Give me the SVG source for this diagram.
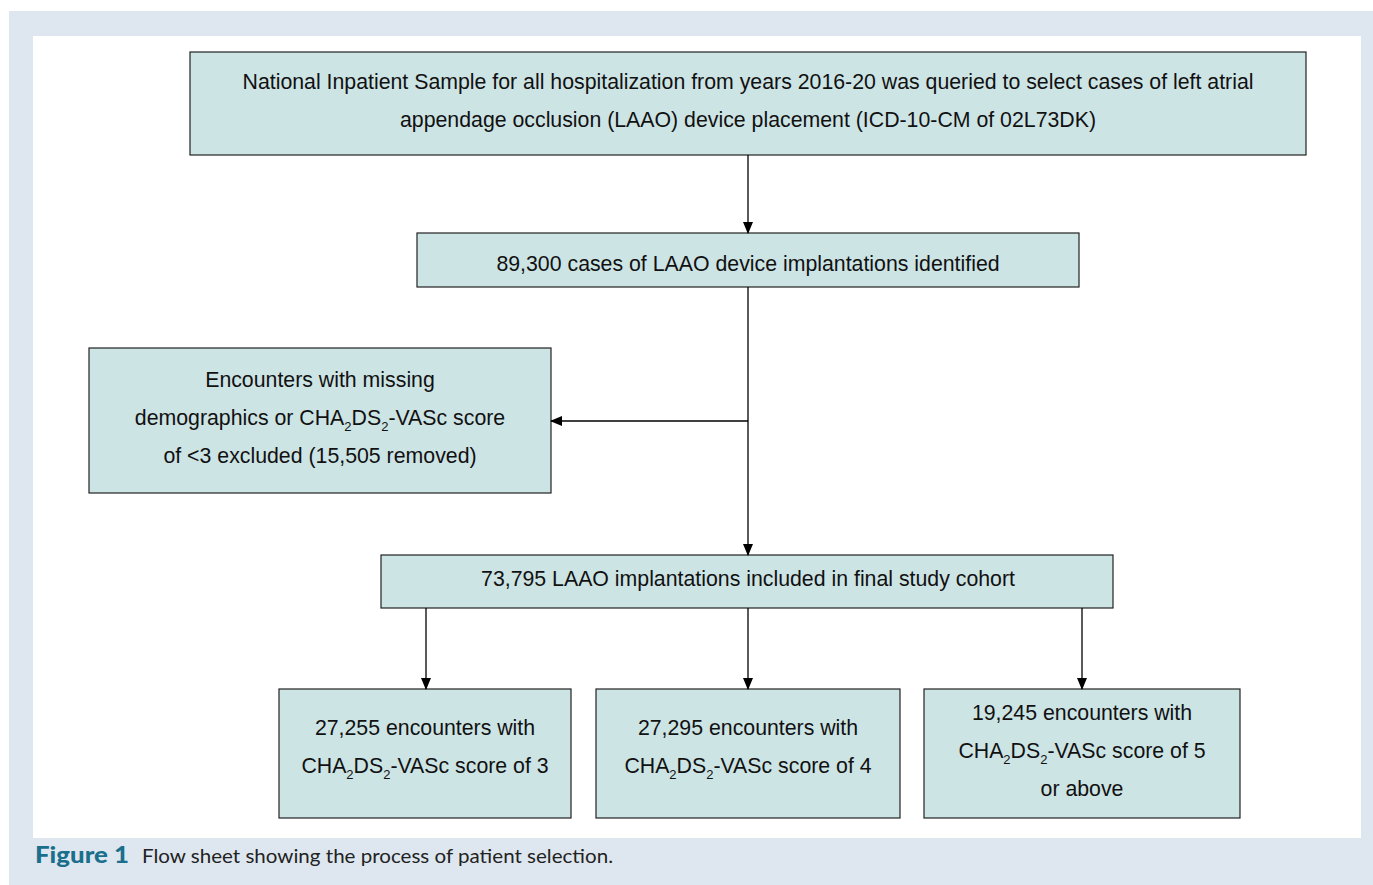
<svg xmlns="http://www.w3.org/2000/svg" width="1373" height="885" viewBox="0 0 1373 885">
<style>
.box{fill:#cde4e5;stroke:#222;stroke-width:1.2}
.t{font-family:"Liberation Sans",Arial,sans-serif;font-size:21.3px;fill:#111;text-anchor:middle}
.s{font-size:13px}
.c{stroke:#000;stroke-width:1.3;fill:none;marker-end:url(#ah)}
</style>
<defs>
<marker id="ah" markerWidth="12" markerHeight="10" refX="11" refY="5" orient="auto" markerUnits="userSpaceOnUse">
<path d="M0,0 L12,5 L0,10 Z" fill="#000"/>
</marker>
</defs>
<rect x="9" y="11" width="1364" height="874" fill="#dee7ef"/>
<rect x="33" y="36" width="1328" height="802" fill="#fff"/>
<g id="n1"><rect class="box" x="190" y="52" width="1116" height="103"/>
<text class="t" x="748" y="89">National Inpatient Sample for all hospitalization from years 2016-20 was queried to select cases of left atrial</text>
<text class="t" x="748" y="127">appendage occlusion (LAAO) device placement (ICD-10-CM of 02L73DK)</text></g>
<g id="n2"><rect class="box" x="417" y="233" width="662" height="54"/>
<text class="t" x="748" y="271">89,300 cases of LAAO device implantations identified</text></g>
<g id="n3"><rect class="box" x="89" y="348" width="462" height="145"/>
<text class="t" x="320" y="387">Encounters with missing</text>
<text class="t" x="320" y="425">demographics or CHA<tspan class="s" dy="6">2</tspan><tspan dy="-6">DS</tspan><tspan class="s" dy="6">2</tspan><tspan dy="-6">-VASc score</tspan></text>
<text class="t" x="320" y="463">of &lt;3 excluded (15,505 removed)</text></g>
<g id="n4"><rect class="box" x="381" y="555" width="732" height="53"/>
<text class="t" x="748" y="586">73,795 LAAO implantations included in final study cohort</text></g>
<g id="n5"><rect class="box" x="279" y="689" width="292" height="129"/>
<text class="t" x="425" y="735">27,255 encounters with</text>
<text class="t" x="425" y="773">CHA<tspan class="s" dy="6">2</tspan><tspan dy="-6">DS</tspan><tspan class="s" dy="6">2</tspan><tspan dy="-6">-VASc score of 3</tspan></text></g>
<g id="n6"><rect class="box" x="596" y="689" width="304" height="129"/>
<text class="t" x="748" y="735">27,295 encounters with</text>
<text class="t" x="748" y="773">CHA<tspan class="s" dy="6">2</tspan><tspan dy="-6">DS</tspan><tspan class="s" dy="6">2</tspan><tspan dy="-6">-VASc score of 4</tspan></text></g>
<g id="n7"><rect class="box" x="924" y="689" width="316" height="129"/>
<text class="t" x="1082" y="720">19,245 encounters with</text>
<text class="t" x="1082" y="758">CHA<tspan class="s" dy="6">2</tspan><tspan dy="-6">DS</tspan><tspan class="s" dy="6">2</tspan><tspan dy="-6">-VASc score of 5</tspan></text>
<text class="t" x="1082" y="796">or above</text></g>
<g id="connectors">
<line class="c" x1="748" y1="155" x2="748" y2="233"/>
<line class="c" x1="748" y1="287" x2="748" y2="555"/>
<line class="c" x1="748" y1="421" x2="551" y2="421"/>
<line class="c" x1="426" y1="608" x2="426" y2="689"/>
<line class="c" x1="748" y1="608" x2="748" y2="689"/>
<line class="c" x1="1082" y1="608" x2="1082" y2="689"/>
</g>
<g id="caption">
<text x="35" y="863" font-family="Lato,'Open Sans',sans-serif" font-weight="900" font-size="23" fill="#1a6f8c" textLength="94" lengthAdjust="spacingAndGlyphs">Figure 1</text>
<text x="142" y="863" font-family="Lato,'Open Sans',sans-serif" font-size="20" fill="#222" textLength="471" lengthAdjust="spacingAndGlyphs">Flow sheet showing the process of patient selection.</text>
</g>
</svg>
